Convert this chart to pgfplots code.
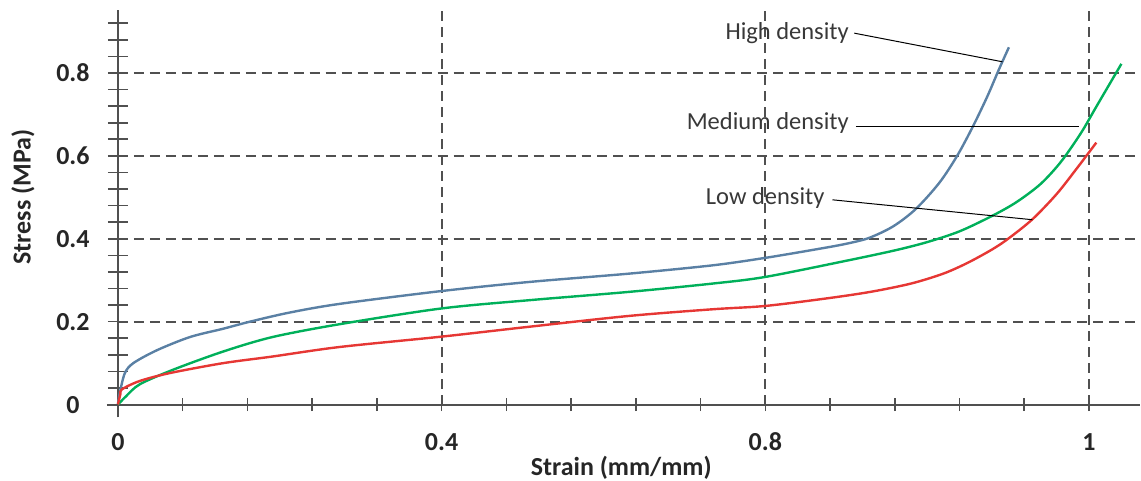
\documentclass[border=0pt]{standalone}
\usepackage{fontspec}
\setmainfont{Carlito}
\usepackage{pgfplots}
\pgfplotsset{compat=1.18}

\definecolor{highc}{RGB}{90,128,164}
\definecolor{medc}{RGB}{0,176,90}
\definecolor{lowc}{RGB}{230,55,52}
\definecolor{axc}{RGB}{80,80,80}

\begin{document}
\begin{tikzpicture}
\begin{axis}[
  scale only axis,
  width=511.5pt, height=197.5pt,
  xmin=0, xmax=1.263,
  ymin=0, ymax=0.952,
  axis lines=left,
  every outer x axis line/.append style={-, axc, line width=1pt},
  every outer y axis line/.append style={-, axc, line width=1pt},
  clip=false,
  tick align=center,
  major tick length=10pt, minor tick length=10pt,
  major x tick style={/pgfplots/major tick length=6.5pt},
  minor x tick style={/pgfplots/minor tick length=6.5pt},
  tick style={axc, line width=0.8pt},
  xtick={0,0.4,0.8,1.2},
  xticklabels={0,0.4,0.8,1},
  minor xtick={0.08,0.16,0.24,0.32,0.48,0.56,0.64,0.72,0.88,0.96,1.04,1.12},
  ytick={0,0.2,0.4,0.6,0.8},
  yticklabels={0,0.2,0.4,0.6,0.8},
  minor ytick={0.04,0.08,0.12,0.16,0.24,0.28,0.32,0.36,0.44,0.48,0.52,0.56,0.64,0.68,0.72,0.76,0.84,0.88,0.92},
  xticklabel style={font=\fontsize{13}{14}\selectfont\bfseries, text=black!85, anchor=center, yshift=-13.5pt},
  yticklabel style={font=\fontsize{13}{14}\selectfont\bfseries, text=black!85, anchor=center, xshift=-17.5pt},
  grid=major,
  major grid style={axc, line width=1pt, dash pattern=on 5pt off 3pt},
  xlabel={Strain (mm/mm)},
  ylabel={Stress (MPa)},
  every axis x label/.style={at={(axis description cs:0.4925,-0.1597)}, anchor=center, inner sep=0pt,
    font=\fontsize{13}{14}\selectfont\bfseries, text=black!85},
  every axis y label/.style={at={(axis description cs:-0.0929,0.526)}, anchor=center, rotate=90, inner sep=0pt,
    font=\fontsize{13}{14}\selectfont\bfseries, text=black!85},
]
% High density
\addplot[highc, line width=1.2pt, smooth, tension=0.5] coordinates {
  (0,0) (0.0025,0.03) (0.0086,0.076) (0.019,0.100) (0.048,0.131) (0.089,0.163)
  (0.130,0.183) (0.163,0.200) (0.212,0.222) (0.274,0.243) (0.4,0.274)
  (0.509,0.296) (0.632,0.316) (0.735,0.336) (0.8,0.354) (0.867,0.376)
  (0.900,0.388) (0.928,0.402) (0.958,0.430) (0.986,0.472) (1.015,0.535)
  (1.037,0.600) (1.056,0.669) (1.074,0.742) (1.089,0.810) (1.101,0.862)};
% Medium density
\addplot[medc, line width=1.2pt, smooth, tension=0.5] coordinates {
  (0,0) (0.010,0.020) (0.027,0.049) (0.068,0.084) (0.130,0.128) (0.191,0.163)
  (0.274,0.194) (0.4,0.232) (0.509,0.252) (0.632,0.272) (0.735,0.292)
  (0.8,0.308) (0.9,0.347) (0.96,0.372) (1.0,0.392) (1.04,0.418)
  (1.08,0.455) (1.11,0.488) (1.14,0.532) (1.165,0.585) (1.19,0.655)
  (1.21,0.722) (1.24,0.822)};
% Low density
\addplot[lowc, line width=1.2pt, smooth, tension=0.5] coordinates {
  (0,0) (0.003,0.025) (0.005,0.037) (0.027,0.057) (0.064,0.076) (0.130,0.10)
  (0.191,0.116) (0.274,0.139) (0.4,0.164) (0.509,0.188) (0.632,0.214)
  (0.735,0.23) (0.8,0.238) (0.875,0.256) (0.93,0.272) (0.98,0.292)
  (1.02,0.316) (1.05,0.342) (1.08,0.374) (1.10,0.400) (1.13,0.447)
  (1.16,0.508) (1.185,0.570) (1.209,0.632)};

% axis line stubs past the origin and page frame
\draw[axc, line width=1pt] (axis cs:-0.0136,0) -- (axis cs:0,0);
\draw[axc, line width=1pt] (axis cs:0,-0.031) -- (axis cs:0,0);
\path (axis cs:-0.1457,-0.183) (axis cs:1.263,0.976);

\node[anchor=east, inner sep=1pt, text=black!78, font=\fontsize{12.25}{13}\selectfont] at (axis cs:0.906,0.896) {High density};
\draw[black, line width=0.5pt] (axis cs:0.910,0.896) -- (axis cs:1.093,0.827);
\node[anchor=east, inner sep=1pt, text=black!78, font=\fontsize{12.25}{13}\selectfont] at (axis cs:0.906,0.68) {Medium density};
\draw[black, line width=0.5pt] (axis cs:0.912,0.670) -- (axis cs:1.188,0.670);
\node[anchor=east, inner sep=1pt, text=black!78, font=\fontsize{12.25}{13}\selectfont] at (axis cs:0.876,0.499) {Low density};
\draw[black, line width=0.5pt] (axis cs:0.883,0.494) -- (axis cs:1.130,0.446);
\end{axis}
\end{tikzpicture}
\end{document}
